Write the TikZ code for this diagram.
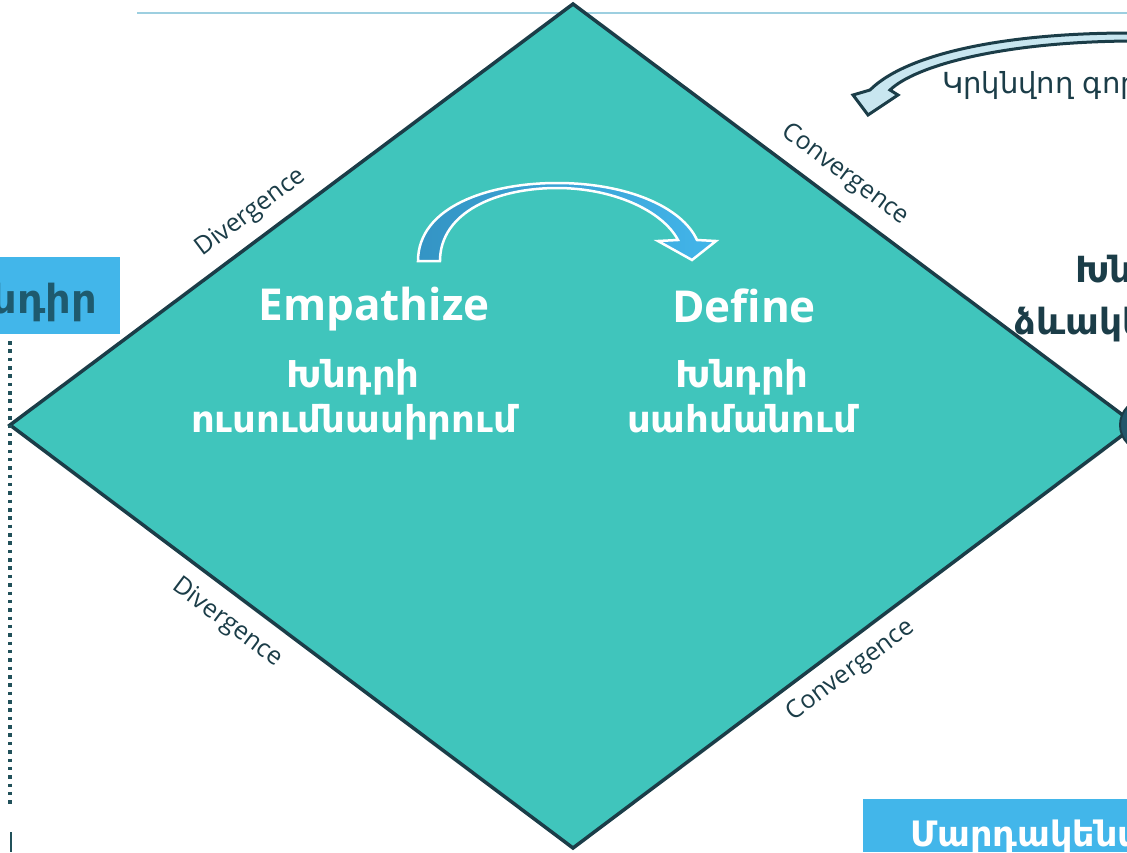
\documentclass[tikz,border=0pt]{standalone}
\usepackage{fontspec}
\setmainfont{Open Sans}
\newfontfamily\arm{DejaVu Sans}
\definecolor{teal1}{RGB}{64,197,188}
\definecolor{dark1}{RGB}{27,61,72}
\definecolor{boxblue}{RGB}{66,182,234}
\definecolor{boxtext}{RGB}{30,90,110}
\definecolor{topline}{RGB}{157,207,224}
\definecolor{arrA}{RGB}{52,148,196}
\definecolor{arrB}{RGB}{66,181,234}
\definecolor{arrlight}{RGB}{200,230,240}
\definecolor{circ}{RGB}{33,86,106}
\tikzset{
  edgelabel/.style={font=\fontsize{25}{28}\selectfont, text=dark1, inner sep=0pt},
  phasetitle/.style={font=\fontsize{44}{48}\selectfont\bfseries, text=white, inner sep=0pt, anchor=base},
  phasesub/.style={font=\arm\fontsize{37}{40}\selectfont\bfseries, text=white, inner sep=0pt, anchor=base},
}
\begin{document}
\begin{tikzpicture}[x=1pt,y=-1pt]
\useasboundingbox (0,0) rectangle (1127,852);
\clip (0,0) rectangle (1127,852);
\fill[white] (0,0) rectangle (1127,852);
% top line
\draw[topline, line width=2pt] (137,13) -- (1127,13);
% diamond
\coordinate (dt) at (573,4);
\coordinate (dl) at (10,425);
\coordinate (db) at (573,848);
\coordinate (dr) at (1136,425);
\draw[fill=teal1, draw=dark1, line width=3.5pt, line join=miter] (dt) -- (dr) -- (db) -- (dl) -- cycle;
% right circle
\node[circle, fill=circ, draw=dark1, line width=2pt, minimum size=52pt, inner sep=0pt] (rc) at (1146,425) {};
% edge labels
\node[edgelabel, rotate=36.8] (dv1) at (251,213) {Divergence};
\node[edgelabel, rotate=-36.8] (cv1) at (845,175) {Convergence};
\node[edgelabel, rotate=-36.8] (dv2) at (227,623) {Divergence};
\node[edgelabel, rotate=36.8] (cv2) at (851,671) {Convergence};
% phase texts
\node[phasetitle] (emp) at (374,320) {Empathize};
\node[phasesub] (emp1) at (353,387) {Խնդրի};
\node[phasesub] (emp2) at (354,432) {ուսումնասիրում};
\node[phasetitle] (def) at (744,322) {Define};
\node[phasesub] (def1) at (742,387) {Խնդրի};
\node[phasesub] (def2) at (742,432) {սահմանում};
% curved arrow inside diamond
\path[draw=white, line width=2.5pt, line join=miter, left color=arrA, right color=arrB]
  (418,261) .. controls (418,207) and (488,183) .. (557,183)
  .. controls (627,183) and (682,207) .. (697,240)
  -- (716,241) -- (692,260) -- (658,241) -- (678,240)
  .. controls (662,210) and (612,188) .. (557,188)
  .. controls (497,188) and (440,212) .. (440,261) -- cycle;
% left box
\fill[boxblue] (0,257) rectangle (120,334);
\node[font=\arm\fontsize{40}{44}\selectfont\bfseries, text=boxtext, anchor=base east, inner sep=0pt] (lb) at (97,313) {Խնդիր};
% dotted line
\coordinate (dtop) at (10,341);
\coordinate (dbot) at (10,805);
\draw[dark1!85!teal1, line width=3.5pt, dash pattern=on 3.5pt off 4.85pt] (dtop) -- (dbot);
\coordinate (stop) at (11,832);
\coordinate (sbot) at (11,852);
\draw[dark1!85!teal1, line width=2.5pt] (stop) -- (sbot);
% bottom right box
\fill[boxblue] (863,799) rectangle (1127,852);
\node[font=\arm\fontsize{35}{38}\selectfont\bfseries, text=white, anchor=base west, inner sep=0pt] (br) at (910,846) {Մարդակենտրոն};
% right text
\node[font=\arm\fontsize{36}{52}\selectfont\bfseries, text=dark1, align=center, anchor=base, inner sep=0pt] (rt) at (1140,334) {Խնդրի\\ձևակերպում};
% top right arrow
\path[draw=dark1, fill=arrlight, line width=3pt, line join=miter]
  (1130,33) .. controls (1000,33) and (905,55) .. (870,90)
  -- (853,95) -- (868,115) -- (898,95) -- (890,90)
  .. controls (915,66) and (1000,42) .. (1130,41) -- cycle;
\node[font=\arm\fontsize{29}{32}\selectfont, text=dark1, anchor=base west, inner sep=0pt] (kr) at (942,93) {Կրկնվող գործընթաց};
\end{tikzpicture}
\end{document}
